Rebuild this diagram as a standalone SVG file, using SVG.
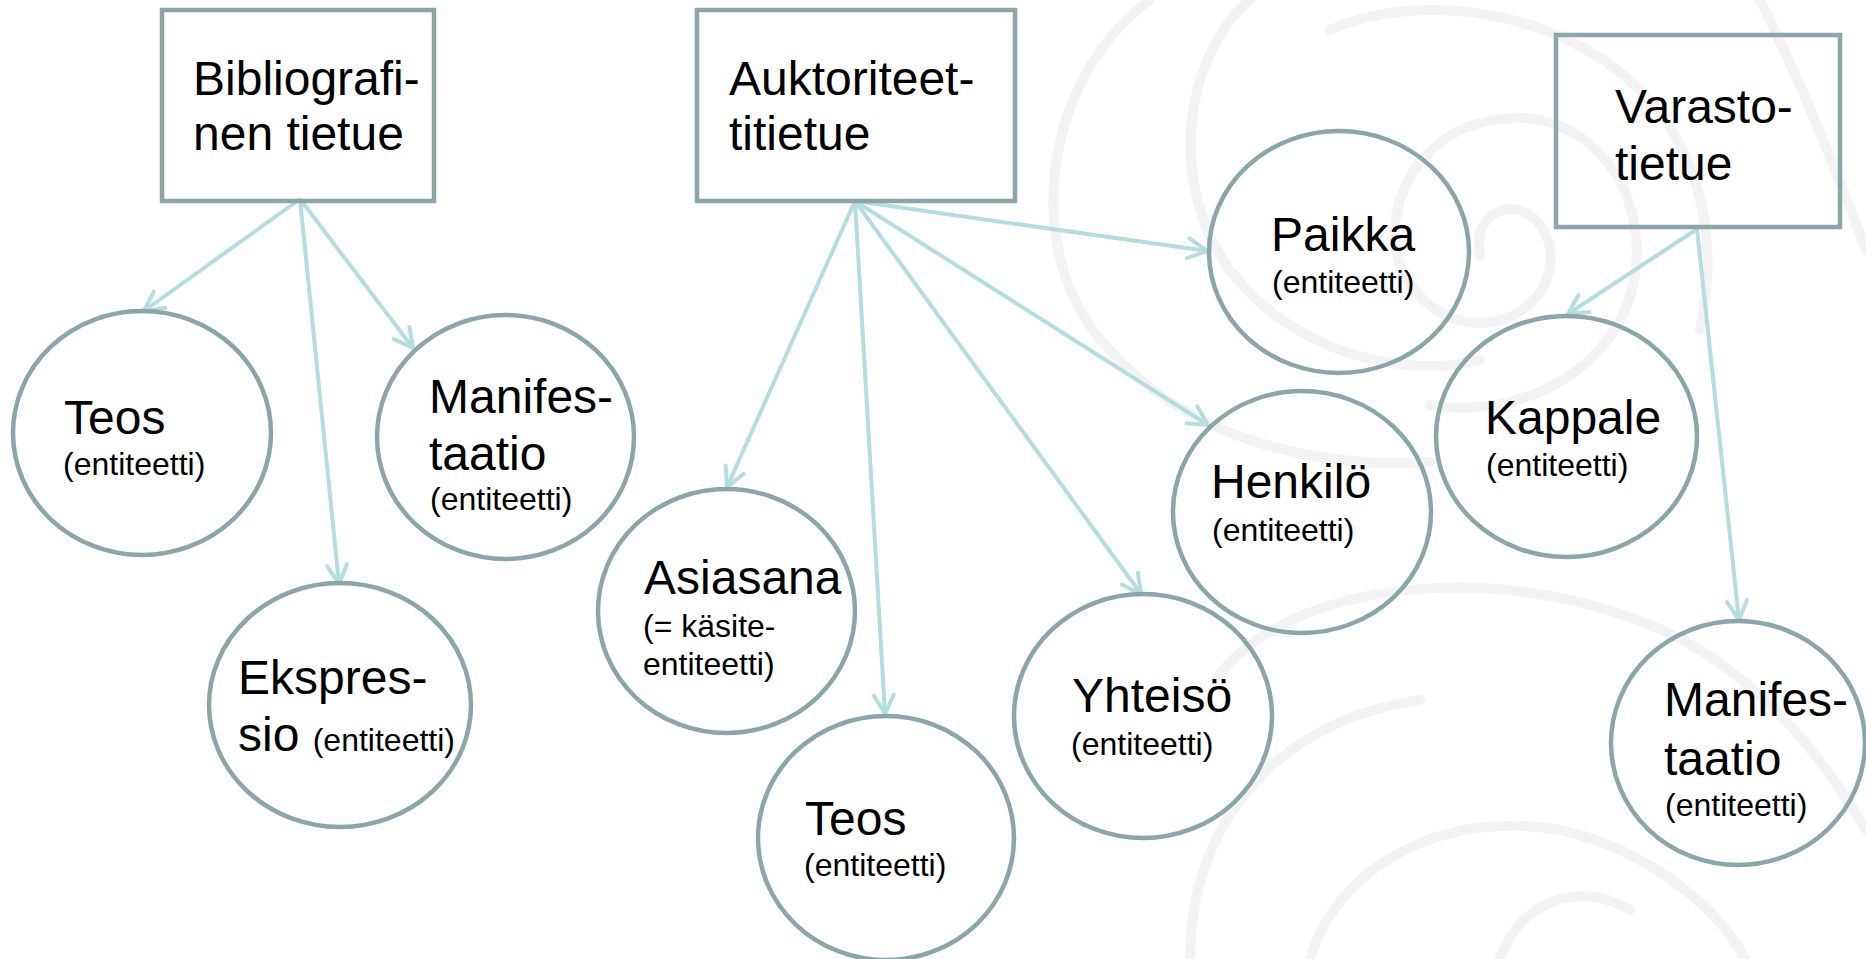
<svg xmlns="http://www.w3.org/2000/svg" width="1866" height="959" viewBox="0 0 1866 959">
<style>
.bg{fill:none;stroke:#f3f3f3;stroke-width:10;stroke-linecap:round}
.box{fill:none;stroke:#8ba6a9;stroke-width:4.5}
.ent{fill:none;stroke:#8ba6a9;stroke-width:4.5}
.big{font-family:"Liberation Sans",Arial,sans-serif;font-size:48px;fill:#000}
.small{font-family:"Liberation Sans",Arial,sans-serif;font-size:32px;fill:#000}
.conn{stroke:#b5dde0;stroke-width:4;fill:none;marker-end:url(#arr)}
</style>
<defs>
<marker id="arr" markerUnits="userSpaceOnUse" viewBox="-22 -12 26 24" markerWidth="26" markerHeight="24" refX="0" refY="0" orient="auto" overflow="visible">
<path d="M-19,-10 L0,0 L-19,10" fill="none" stroke="#b5dde0" stroke-width="4" stroke-linecap="round" stroke-linejoin="round"/>
</marker>
</defs>
<rect width="1866" height="959" fill="#fff"/>
<g id="background">
<path class="bg" d="M1150,0 C1040,80 1020,260 1110,350 C1180,430 1300,470 1430,462"/>
<path class="bg" d="M1250,0 C1180,60 1170,190 1230,270 C1290,350 1400,380 1480,360"/>
<path class="bg" d="M1480,255 C1470,205 1530,190 1548,240 C1565,300 1495,345 1440,312 C1365,268 1390,160 1465,128 C1565,88 1650,170 1635,275 C1620,370 1520,420 1430,405"/>
<path class="bg" d="M1330,30 C1420,-10 1560,10 1640,90 C1700,150 1720,240 1700,330"/>
<path class="bg" d="M1760,0 C1800,80 1840,180 1866,250"/>
<path class="bg" d="M1215,680 C1300,565 1550,560 1700,650 C1780,700 1830,770 1866,830"/>
<path class="bg" d="M1310,959 C1340,860 1450,810 1560,830 C1650,850 1720,910 1745,959"/>
<path class="bg" d="M1190,959 C1190,820 1280,720 1420,700"/>
<path class="bg" d="M1500,959 C1520,900 1580,880 1630,910"/>
</g>
<g id="connectors">
<line class="conn" x1="300" y1="199" x2="144" y2="311"/>
<line class="conn" x1="300" y1="199" x2="413" y2="348"/>
<line class="conn" x1="300" y1="199" x2="339" y2="584"/>
<line class="conn" x1="855" y1="201" x2="1207" y2="251"/>
<line class="conn" x1="855" y1="201" x2="1208" y2="425"/>
<line class="conn" x1="855" y1="201" x2="1141" y2="594"/>
<line class="conn" x1="855" y1="201" x2="885" y2="714"/>
<line class="conn" x1="855" y1="201" x2="727" y2="487"/>
<line class="conn" x1="1697" y1="229" x2="1568" y2="314"/>
<line class="conn" x1="1697" y1="229" x2="1739" y2="620"/>
</g>
<g id="bibliografinen">
<rect class="box" x="162" y="10" width="272" height="191"/>
<text class="big" x="193" y="95">Bibliografi-</text>
<text class="big" x="193" y="150">nen tietue</text>
</g>
<g id="auktoriteetti">
<rect class="box" x="697" y="10" width="318" height="191"/>
<text class="big" x="729" y="95">Auktoriteet-</text>
<text class="big" x="729" y="150">titietue</text>
</g>
<g id="varasto">
<rect class="box" x="1556" y="35" width="284" height="192"/>
<text class="big" x="1615" y="123">Varasto-</text>
<text class="big" x="1615" y="180">tietue</text>
</g>
<g id="teos1">
<ellipse class="ent" cx="142" cy="433" rx="129" ry="122"/>
<text class="big" x="64" y="434">Teos</text>
<text class="small" x="63" y="475">(entiteetti)</text>
</g>
<g id="manifestaatio1">
<ellipse class="ent" cx="505.5" cy="437" rx="128.5" ry="122"/>
<text class="big" x="429" y="413">Manifes-</text>
<text class="big" x="429" y="470">taatio</text>
<text class="small" x="430" y="510">(entiteetti)</text>
</g>
<g id="ekspressio">
<ellipse class="ent" cx="340" cy="705" rx="131" ry="122"/>
<text class="big" x="238" y="694">Ekspres-</text>
<text x="238" y="751"><tspan class="big">sio </tspan><tspan class="small">(entiteetti)</tspan></text>
</g>
<g id="asiasana">
<ellipse class="ent" cx="726.5" cy="611" rx="128.5" ry="122"/>
<text class="big" x="644" y="594">Asiasana</text>
<text class="small" x="643" y="637">(= käsite-</text>
<text class="small" x="643" y="675">entiteetti)</text>
</g>
<g id="teos2">
<ellipse class="ent" cx="886" cy="838" rx="128" ry="122"/>
<text class="big" x="805" y="835">Teos</text>
<text class="small" x="804" y="876">(entiteetti)</text>
</g>
<g id="paikka">
<ellipse class="ent" cx="1339" cy="252" rx="130" ry="121"/>
<text class="big" x="1271" y="251">Paikka</text>
<text class="small" x="1272" y="293">(entiteetti)</text>
</g>
<g id="henkilo">
<ellipse class="ent" cx="1302" cy="512" rx="129" ry="121"/>
<text class="big" x="1211" y="498">Henkilö</text>
<text class="small" x="1212" y="541">(entiteetti)</text>
</g>
<g id="yhteiso">
<ellipse class="ent" cx="1143" cy="716" rx="129" ry="122"/>
<text class="big" x="1072" y="712">Yhteisö</text>
<text class="small" x="1071" y="755">(entiteetti)</text>
</g>
<g id="kappale">
<ellipse class="ent" cx="1566.5" cy="436.5" rx="130.5" ry="120.5"/>
<text class="big" x="1485" y="434">Kappale</text>
<text class="small" x="1486" y="476">(entiteetti)</text>
</g>
<g id="manifestaatio2">
<ellipse class="ent" cx="1738" cy="743" rx="127" ry="122"/>
<text class="big" x="1664" y="716">Manifes-</text>
<text class="big" x="1664" y="775">taatio</text>
<text class="small" x="1665" y="816">(entiteetti)</text>
</g>
</svg>
